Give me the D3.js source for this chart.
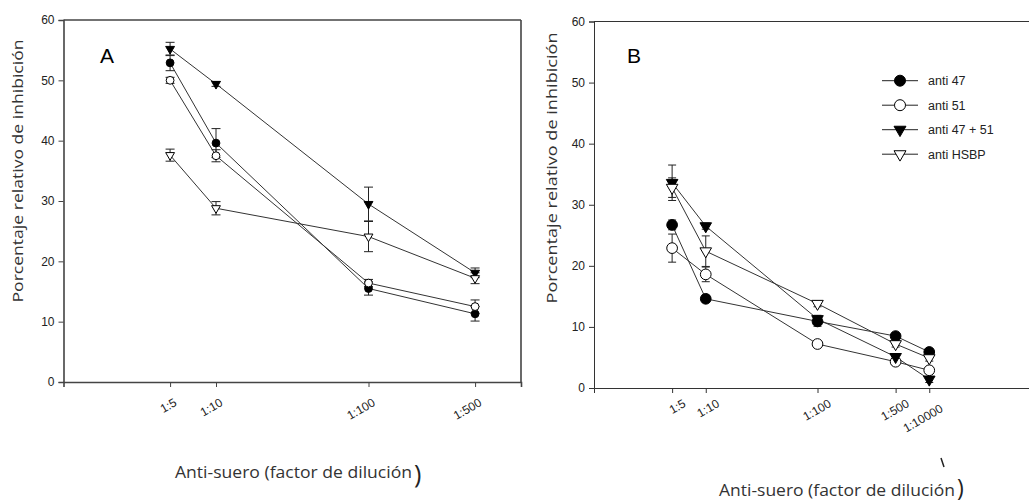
<!DOCTYPE html>
<html>
<head>
<meta charset="utf-8">
<script src="https://cdn.jsdelivr.net/npm/d3@7"></script>
<style>
  body { margin: 0; background: #fff; }
  svg { display: block; }
  .tick text { font-family: "Liberation Sans", Arial, sans-serif; fill: #222; }
</style>
</head>
<body>
<div id="canvas"></div>
<script>
// ---- data ----
var seriesNames = ["anti 47", "anti 51", "anti 47 + 51", "anti HSBP"];

// panel A
var dilA = [5, 10, 100, 500];
var labelsA = ["1:5", "1:10", "1:100", "1:500"];
var a47 = [52.9, 39.6, 15.5, 11.3];
var a51 = [50.0, 37.5, 16.4, 12.5];
var a4751 = [55.2, 49.4, 29.5, 18.1];
var aHSBP = [37.6, 28.8, 24.1, 17.2];
var errA47 = [1.3, 2.4, 1.1, 1.2];
var errA51 = [0.5, 1.0, 0.6, 1.1];
var errA4751 = [1.1, 0.4, 2.8, 0.8];
var errAHSBP = [1.0, 1.1, 2.5, 0.9];

// panel B
var dilB = [5, 10, 100, 500, 1000];
var labelsB = ["1:5", "1:10", "1:100", "1:500", "1:10000"];
var b47 = [26.7, 14.6, 10.9, 8.5, 5.9];
var b51 = [22.9, 18.6, 7.2, 4.3, 2.9];
var b4751 = [33.6, 26.5, 11.3, 5.1, 1.4];
var bHSBP = [32.8, 22.4, 13.8, 7.2, 4.9];
var errB47 = [0.8, 0.6, 0.8, 0.5, 0.5];
var errB51 = [2.3, 1.2, 0.5, 0.5, 0.5];
var errB4751 = [2.9, 0.5, 0.6, 0.5, 0.5];
var errBHSBP = [1.6, 2.5, 0.5, 0.5, 0.5];

var yTicks = [0, 10, 20, 30, 40, 50, 60];

var width = 1029, height = 502;

var svg = d3.select("#canvas")
  .append("svg")
  .attr("width", width)
  .attr("height", height);

svg.append("rect").attr("width", width).attr("height", height).attr("fill", "#fff");

// marker style per series
var markers = [
  { type: d3.symbolCircle, fill: "#000", rot: 0 },
  { type: d3.symbolCircle, fill: "#fff", rot: 0 },
  { type: d3.symbolTriangle, fill: "#000", rot: 180 },
  { type: d3.symbolTriangle, fill: "#fff", rot: 180 }
];

function drawPanel(cfg) {
  var x = d3.scaleLog().domain(cfg.xDomain).range(cfg.xRange);
  var y = d3.scaleLinear().domain([0, 60]).range(cfg.yRange);
  var g = svg.append("g");

  // frame (top + optional right)
  g.append("line")
    .attr("x1", cfg.xRange[0]).attr("x2", cfg.xRange[1])
    .attr("y1", y(60)).attr("y2", y(60))
    .attr("stroke", cfg.axisColor).attr("stroke-width", cfg.axisWidth);
  if (cfg.rightBorder) {
    g.append("line")
      .attr("x1", cfg.xRange[1]).attr("x2", cfg.xRange[1])
      .attr("y1", y(60)).attr("y2", y(0))
      .attr("stroke", cfg.axisColor).attr("stroke-width", cfg.axisWidth);
  }

  // Y axis
  var yAxis = g.append("g")
    .attr("transform", "translate(" + cfg.xRange[0] + ",0)")
    .call(d3.axisLeft(y).tickValues(yTicks).tickSize(5).tickPadding(4));
  yAxis.selectAll("text").style("font-size", "12px");

  // X axis
  var xAxis = g.append("g")
    .attr("transform", "translate(0," + y(0) + ")")
    .call(d3.axisBottom(x).tickValues(cfg.dil)
      .tickFormat(function(d, i) { return cfg.labels[i]; })
      .tickSize(5));
  xAxis.selectAll("text")
    .style("font-size", "12px")
    .attr("text-anchor", "end")
    .attr("dy", null)
    .attr("y", 0)
    .attr("transform", function(d, i) {
      var extra = cfg.labels[i].length > 5 ? cfg.longDy : 0;
      return "translate(" + cfg.lblDx + "," + (cfg.lblDy + extra) + ") rotate(-30)";
    });

  [yAxis, xAxis].forEach(function(a) {
    a.select(".domain").attr("stroke", cfg.axisColor).attr("stroke-width", cfg.axisWidth);
    a.selectAll(".tick line").attr("stroke", cfg.axisColor);
  });

  var line = d3.line()
    .x(function(d) { return x(d[0]); })
    .y(function(d) { return y(d[1]); });

  // lines
  cfg.series.forEach(function(vals) {
    g.append("path")
      .datum(cfg.dil.map(function(d, i) { return [d, vals[i]]; }))
      .attr("d", line)
      .attr("fill", "none")
      .attr("stroke", "#333")
      .attr("stroke-width", 1);
  });

  // error bars
  cfg.series.forEach(function(vals, s) {
    var errs = cfg.errs[s];
    var eg = g.append("g").attr("stroke", "#222").attr("stroke-width", 1);
    cfg.dil.forEach(function(d, i) {
      var cx = x(d), top = y(vals[i] + errs[i]), bot = y(vals[i] - errs[i]);
      eg.append("line").attr("x1", cx).attr("x2", cx).attr("y1", top).attr("y2", bot);
      eg.append("line").attr("x1", cx - cfg.cap).attr("x2", cx + cfg.cap).attr("y1", top).attr("y2", top);
      eg.append("line").attr("x1", cx - cfg.cap).attr("x2", cx + cfg.cap).attr("y1", bot).attr("y2", bot);
    });
  });

  // markers
  cfg.series.forEach(function(vals, s) {
    var m = markers[s];
    var size = m.type === d3.symbolCircle ? cfg.circleSize : cfg.triSize;
    g.append("g").selectAll("path")
      .data(cfg.dil.map(function(d, i) { return [d, vals[i]]; }))
      .enter()
      .append("path")
      .attr("d", d3.symbol().type(m.type).size(size))
      .attr("transform", function(d) {
        return "translate(" + x(d[0]) + "," + y(d[1]) + ") rotate(" + m.rot + ")";
      })
      .attr("fill", m.fill)
      .attr("stroke", "#000")
      .attr("stroke-width", 1);
  });

  // panel letter
  g.append("text")
    .attr("x", cfg.letterX).attr("y", 63)
    .style("font-family", "Liberation Sans, Arial, sans-serif")
    .style("font-size", "21px")
    .text(cfg.letter);

  // y title
  g.append("text")
    .attr("transform", "translate(" + cfg.yTitleX + "," + cfg.yTitleY + ") rotate(-90)")
    .attr("text-anchor", "middle")
    .attr("textLength", cfg.yTitleLen)
    .attr("lengthAdjust", "spacingAndGlyphs")
    .style("font-family", "Open Sans, sans-serif")
    .style("font-size", "15px")
    .style("fill", "#333")
    .text("Porcentaje relativo de inhibición");

  // x title
  g.append("text")
    .attr("x", cfg.xTitleX).attr("y", cfg.xTitleY)
    .attr("textLength", cfg.xTitleLen)
    .attr("lengthAdjust", "spacingAndGlyphs")
    .style("font-family", "Open Sans, sans-serif")
    .style("font-size", "15.5px")
    .style("fill", "#333")
    .text("Anti-suero (factor de dilución");
  g.append("text")
    .attr("x", cfg.xTitleX + cfg.xTitleLen + 2).attr("y", cfg.xTitleY + cfg.parenDy)
    .style("font-family", "Open Sans, sans-serif")
    .style("font-size", cfg.parenSize + "px")
    .style("fill", "#222")
    .text(")");

  return { x: x, y: y, g: g };
}

drawPanel({
  letter: "A", letterX: 100,
  xDomain: [1, 1000], xRange: [63.5, 521], yRange: [382, 20],
  dil: dilA, labels: labelsA,
  series: [a47, a51, a4751, aHSBP],
  errs: [errA47, errA51, errA4751, errAHSBP],
  axisColor: "#444", axisWidth: 1.6, rightBorder: true,
  lblDx: 7, lblDy: 23, longDy: 0,
  cap: 4.5, circleSize: 48, triSize: 34,
  yTitleX: 23, yTitleY: 171, yTitleLen: 263,
  xTitleX: 175, xTitleY: 478, xTitleLen: 237,
  parenDy: 5, parenSize: 25
});

drawPanel({
  letter: "B", letterX: 627,
  xDomain: [1, 10000], xRange: [594, 1041], yRange: [388, 21.5],
  dil: dilB, labels: labelsB,
  series: [b47, b51, b4751, bHSBP],
  errs: [errB47, errB51, errB4751, errBHSBP],
  axisColor: "#333", axisWidth: 1, rightBorder: false,
  lblDx: 14, lblDy: 18, longDy: 5,
  cap: 4, circleSize: 90, triSize: 58,
  yTitleX: 557, yTitleY: 168, yTitleLen: 271,
  xTitleX: 719, xTitleY: 496, xTitleLen: 236,
  parenDy: 0, parenSize: 23
});

// legend (panel B)
var legend = svg.append("g");
seriesNames.forEach(function(name, i) {
  var ly = 80.7 + i * 24.5;
  var m = markers[i];
  legend.append("line")
    .attr("x1", 882).attr("x2", 918).attr("y1", ly).attr("y2", ly)
    .attr("stroke", "#222").attr("stroke-width", 1);
  legend.append("path")
    .attr("d", d3.symbol().type(m.type).size(m.type === d3.symbolCircle ? 95 : 62))
    .attr("transform", "translate(900," + ly + ") rotate(" + m.rot + ")")
    .attr("fill", m.fill).attr("stroke", "#000");
  legend.append("text")
    .attr("x", 928).attr("y", ly + 4.5)
    .style("font-family", "Liberation Sans, Arial, sans-serif")
    .style("font-size", "12.5px")
    .style("fill", "#222")
    .text(name);
});

// stray mark under the B axis labels
svg.append("line")
  .attr("x1", 941).attr("y1", 458).attr("x2", 944).attr("y2", 467)
  .attr("stroke", "#222").attr("stroke-width", 1.5);
</script>
</body>
</html>
